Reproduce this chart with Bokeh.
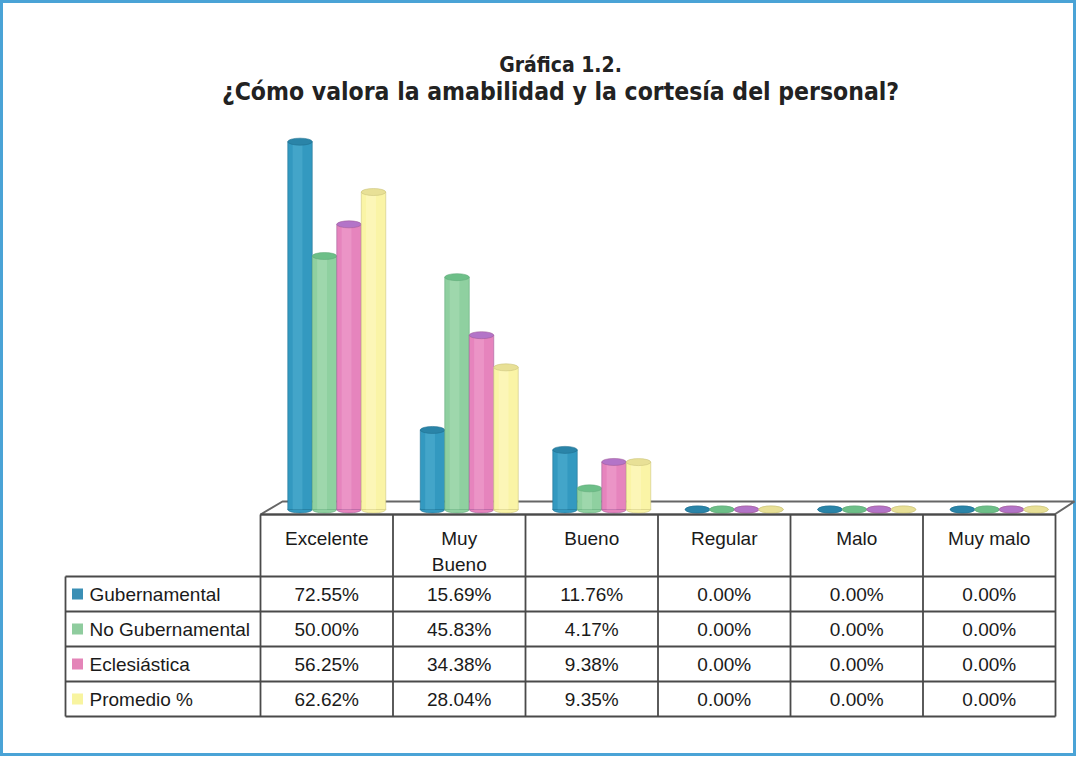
from bokeh.plotting import figure
from bokeh.models import Range1d
from bokeh.core.properties import value
from bokeh.embed import file_html
from bokeh.resources import INLINE

# ---------------- data ----------------
categories = ["Excelente", "Muy\nBueno", "Bueno", "Regular", "Malo", "Muy malo"]
series_names = ["Gubernamental", "No Gubernamental", "Eclesiástica", "Promedio %"]
gubernamental = [72.55, 15.69, 11.76, 0.00, 0.00, 0.00]
no_gubernamental = [50.00, 45.83, 4.17, 0.00, 0.00, 0.00]
eclesiastica = [56.25, 34.38, 9.38, 0.00, 0.00, 0.00]
promedio = [62.62, 28.04, 9.35, 0.00, 0.00, 0.00]
title_1 = "Gráfica 1.2."
title_2 = "¿Cómo valora la amabilidad y la cortesía del personal?"

series_values = [gubernamental, no_gubernamental, eclesiastica, promedio]

# ---------------- styles ----------------
body_col = ["#3399c0", "#8fd0a0", "#e684bd", "#faf4a6"]
top_col = ["#2a84a8", "#6dbf88", "#b374c8", "#e8e096"]
hl_col = ["#5cb6d8", "#b3e0bf", "#f2acd4", "#fffbd2"]
edge_col = ["#1f6f8f", "#5fa878", "#a05c98", "#c9c27a"]
legend_col = ["#3a8fb5", "#8fcc9e", "#e484b8", "#f8f4a0"]

W, H = 1076, 756
# layout constants (page pixels)
COL0 = 268.0
COLW = 132.5
FLOOR_PY = 517.0
PX_PER_PCT = 5.07

def X(px):
    return (px - COL0 - COLW / 2) / COLW

def Y(py):
    return (FLOOR_PY - py) / PX_PER_PCT

p = figure(width=W, height=H, output_backend="svg", toolbar_location=None,
           x_range=Range1d(X(8), X(8 + W)), y_range=Range1d(Y(8 + H), Y(8)),
           x_axis_type=None, y_axis_type=None, min_border=0)
p.grid.visible = False
p.background_fill_color = "white"
p.border_fill_color = "white"
p.outline_line_color = "#4aa3d6"
p.outline_line_width = 5

FONT = "Liberation Sans"
NARROW = "'DejaVu Sans Condensed', Roboto, sans-serif"

# ---------------- title ----------------
p.text(x=[X(568)], y=[Y(72)], text=[title_1], text_align="center", text_baseline="middle",
       text_font=value(NARROW), text_font_style="bold", text_font_size=value("21px"), text_color="#222222")
p.text(x=[X(568)], y=[Y(99)], text=[title_2], text_align="center", text_baseline="middle",
       text_font=value(NARROW), text_font_style="bold", text_font_size=value("24.5px"), text_color="#222222")

# ---------------- floor ----------------
p.patch(x=[X(268), X(290), X(1082), X(1062)], y=[Y(522), Y(509), Y(509), Y(522)],
        fill_color="white", line_color="#666666", line_width=2)

# ---------------- cylinders ----------------
bw = 24.5 / COLW          # width of one cylinder in category units
depth = 10.0 / COLW       # 3D shift of the bars relative to the table columns
eh = 7.0 / PX_PER_PCT     # ellipse height in value units
ncat = len(categories)
for j, vals in enumerate(series_values):
    xs = [i + depth + (j - 1.5) * bw for i in range(ncat)]
    p.ellipse(x=xs, y=[0] * ncat, width=bw, height=eh, fill_color=body_col[j],
              line_color=edge_col[j], line_width=0.8, line_alpha=0.7)
    p.vbar(x=xs, top=vals, bottom=0, width=bw, fill_color=body_col[j],
           line_color=edge_col[j], line_width=0.8, line_alpha=0.7)
    p.vbar(x=[x - 0.1 * bw for x in xs], top=vals, bottom=0, width=0.4 * bw,
           fill_color=hl_col[j], fill_alpha=0.4, line_alpha=0)
    p.ellipse(x=xs, y=vals, width=bw, height=eh, fill_color=top_col[j],
              line_color=edge_col[j], line_width=0.8, line_alpha=0.7)

# ---------------- table ----------------
TBL_TOP = 522.0
HDR_BOT = 584.0
ROWH = 35.0
LEFT = 73.0
nrow = len(series_names)
RIGHT = COL0 + COLW * ncat
BOT = HDR_BOT + ROWH * nrow

lx, ly = [], []
lx.append([X(COL0), X(RIGHT)]); ly.append([Y(TBL_TOP), Y(TBL_TOP)])
for r in range(nrow + 1):
    yy = HDR_BOT + ROWH * r
    lx.append([X(LEFT), X(RIGHT)]); ly.append([Y(yy), Y(yy)])
lx.append([X(LEFT), X(LEFT)]); ly.append([Y(HDR_BOT), Y(BOT)])
for c in range(ncat + 1):
    xx = COL0 + COLW * c
    lx.append([X(xx), X(xx)]); ly.append([Y(TBL_TOP), Y(BOT)])
p.multi_line(xs=lx, ys=ly, line_color="#4a4a4a", line_width=1.8)

# header labels
p.text(x=list(range(ncat)), y=[Y(535)] * ncat, text=categories, text_align="center",
       text_baseline="top", text_font=value(FONT), text_font_size=value("19px"),
       text_color="#1a1a1a", text_line_height=1.25)

# legend column
row_y = [Y(HDR_BOT + ROWH * (r + 0.5)) for r in range(nrow)]
p.rect(x=[X(85)] * nrow, y=row_y, width=11 / COLW, height=11 / PX_PER_PCT,
       fill_color=legend_col, line_alpha=0)
p.text(x=[X(97)] * nrow, y=row_y, text=series_names, text_align="left",
       text_baseline="middle", text_font=value(FONT), text_font_size=value("19px"),
       text_color="#1a1a1a")

# values
for r, vals in enumerate(series_values):
    p.text(x=list(range(ncat)), y=[row_y[r]] * ncat, text=[f"{v:.2f}%" for v in vals],
           text_align="center", text_baseline="middle", text_font=value(FONT),
           text_font_size=value("19px"), text_color="#1a1a1a")

open("out.html", "w").write(file_html(p, INLINE))
